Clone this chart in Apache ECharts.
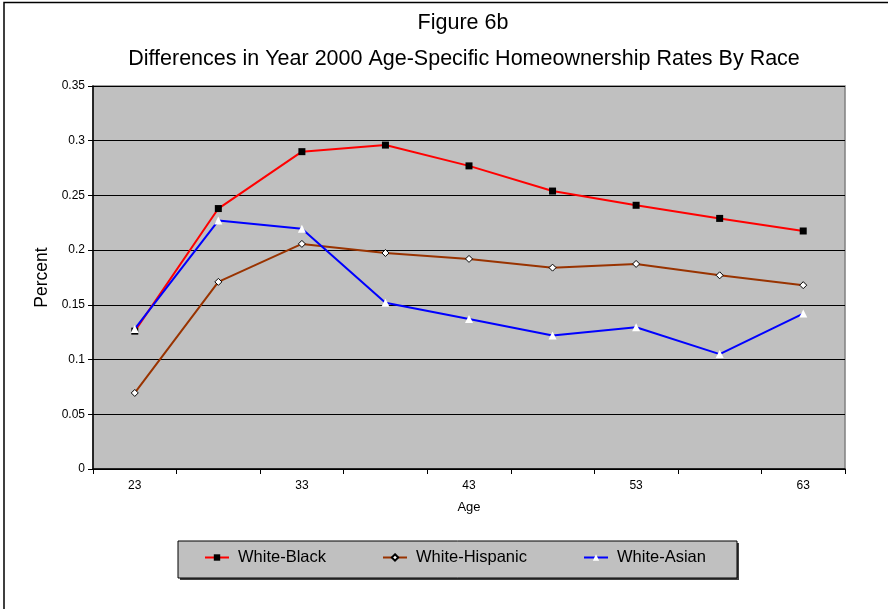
<!DOCTYPE html>
<html><head><meta charset="utf-8">
<script src="https://cdn.jsdelivr.net/npm/echarts@6/dist/echarts.min.js"></script>
<style>html,body{margin:0;padding:0;background:#fff}#c{width:888px;height:609px}</style>
</head><body><div id="c"></div>
<script>
const ages = ['23','28','33','38','43','48','53','58','63'];
const whiteBlack = [0.126,0.238,0.290,0.296,0.277,0.254,0.241,0.229,0.2175];
const whiteHispanic = [0.0695,0.171,0.2057,0.1974,0.192,0.184,0.1874,0.177,0.168];
const whiteAsian = [0.128,0.227,0.2195,0.152,0.137,0.122,0.1295,0.105,0.142];
const titleLines = ['Figure 6b','Differences in Year 2000 Age-Specific Homeownership Rates By Race'];
const FONT = '"Liberation Sans", Arial, sans-serif';

const chart = echarts.init(document.getElementById('c'), null, {renderer:'canvas'});
const mkLegend = (name, left) => ({
  data:[name], left:left, top:549, itemWidth:24, itemHeight:8, itemGap:0,
  padding:0, textStyle:{fontFamily:FONT, fontSize:16.5, color:'#000', padding:[0,0,0,4]}
});
chart.setOption({
  animation:false,
  backgroundColor:'#fff',
  textStyle:{fontFamily:FONT},
  title:[
    {text:titleLines[0], left:458, top:7, textAlign:'center', textStyle:{fontFamily:FONT,fontSize:21.5,fontWeight:'normal',color:'#000'}},
    {text:titleLines[1], left:459, top:43, textAlign:'center', textStyle:{fontFamily:FONT,fontSize:21.5,fontWeight:'normal',color:'#000'}}
  ],
  graphic:[
    {type:'polyline', shape:{points:[[4,609],[4,2.5],[888,2.5]]}, style:{stroke:'#000',lineWidth:1.5,fill:null}, z:10},
    {type:'rect', shape:{x:180,y:543,width:559,height:37}, style:{fill:'#404040'}, z:0},
    {type:'rect', shape:{x:178,y:541,width:559,height:37}, style:{fill:'#C0C0C0',stroke:'#000',lineWidth:1}, z:1}
  ],
  legend:[mkLegend('White-Black',204), mkLegend('White-Hispanic',382), mkLegend('White-Asian',583)],
  grid:{left:93, right:43, top:86, bottom:140, show:true, backgroundColor:'#C0C0C0', borderColor:'#808080', borderWidth:1.5},
  xAxis:{
    type:'category', data:ages, boundaryGap:true,
    name:'Age', nameLocation:'middle', nameGap:32,
    nameTextStyle:{fontFamily:FONT,fontSize:13,color:'#000'},
    axisLine:{lineStyle:{color:'#000',width:1.5}},
    axisTick:{show:true, interval:0, length:5, inside:false, lineStyle:{color:'#000'}},
    axisLabel:{interval:1, fontFamily:FONT, fontSize:12, color:'#000', margin:11},
    splitLine:{show:false}
  },
  yAxis:{
    type:'value', min:0, max:0.35, interval:0.05,
    name:'Percent', nameLocation:'middle', nameGap:39, nameRotate:90,
    nameTextStyle:{fontFamily:FONT,fontSize:17.5,color:'#000'},
    axisLine:{show:true, lineStyle:{color:'#000',width:1.5}},
    axisTick:{show:true, length:5, lineStyle:{color:'#000'}},
    axisLabel:{fontFamily:FONT, fontSize:12, color:'#000', margin:8},
    splitLine:{show:true, lineStyle:{color:'#000',width:1}}
  },
  series:[
    {name:'White-Black', type:'line', data:whiteBlack, symbol:'rect', symbolSize:7,
     lineStyle:{color:'#FF0000',width:2}, itemStyle:{color:'#000',borderColor:'#000',borderWidth:0}, color:'#FF0000'},
    {name:'White-Hispanic', type:'line', data:whiteHispanic, symbol:'diamond', symbolSize:7,
     lineStyle:{color:'#993300',width:2}, itemStyle:{color:'#fff',borderColor:'#000',borderWidth:1}, color:'#993300'},
    {name:'White-Asian', type:'line', data:whiteAsian, symbol:'triangle', symbolSize:8,
     lineStyle:{color:'#0000FF',width:2}, itemStyle:{color:'#fff',borderWidth:0}, color:'#0000FF'}
  ]
});
</script></body></html>
